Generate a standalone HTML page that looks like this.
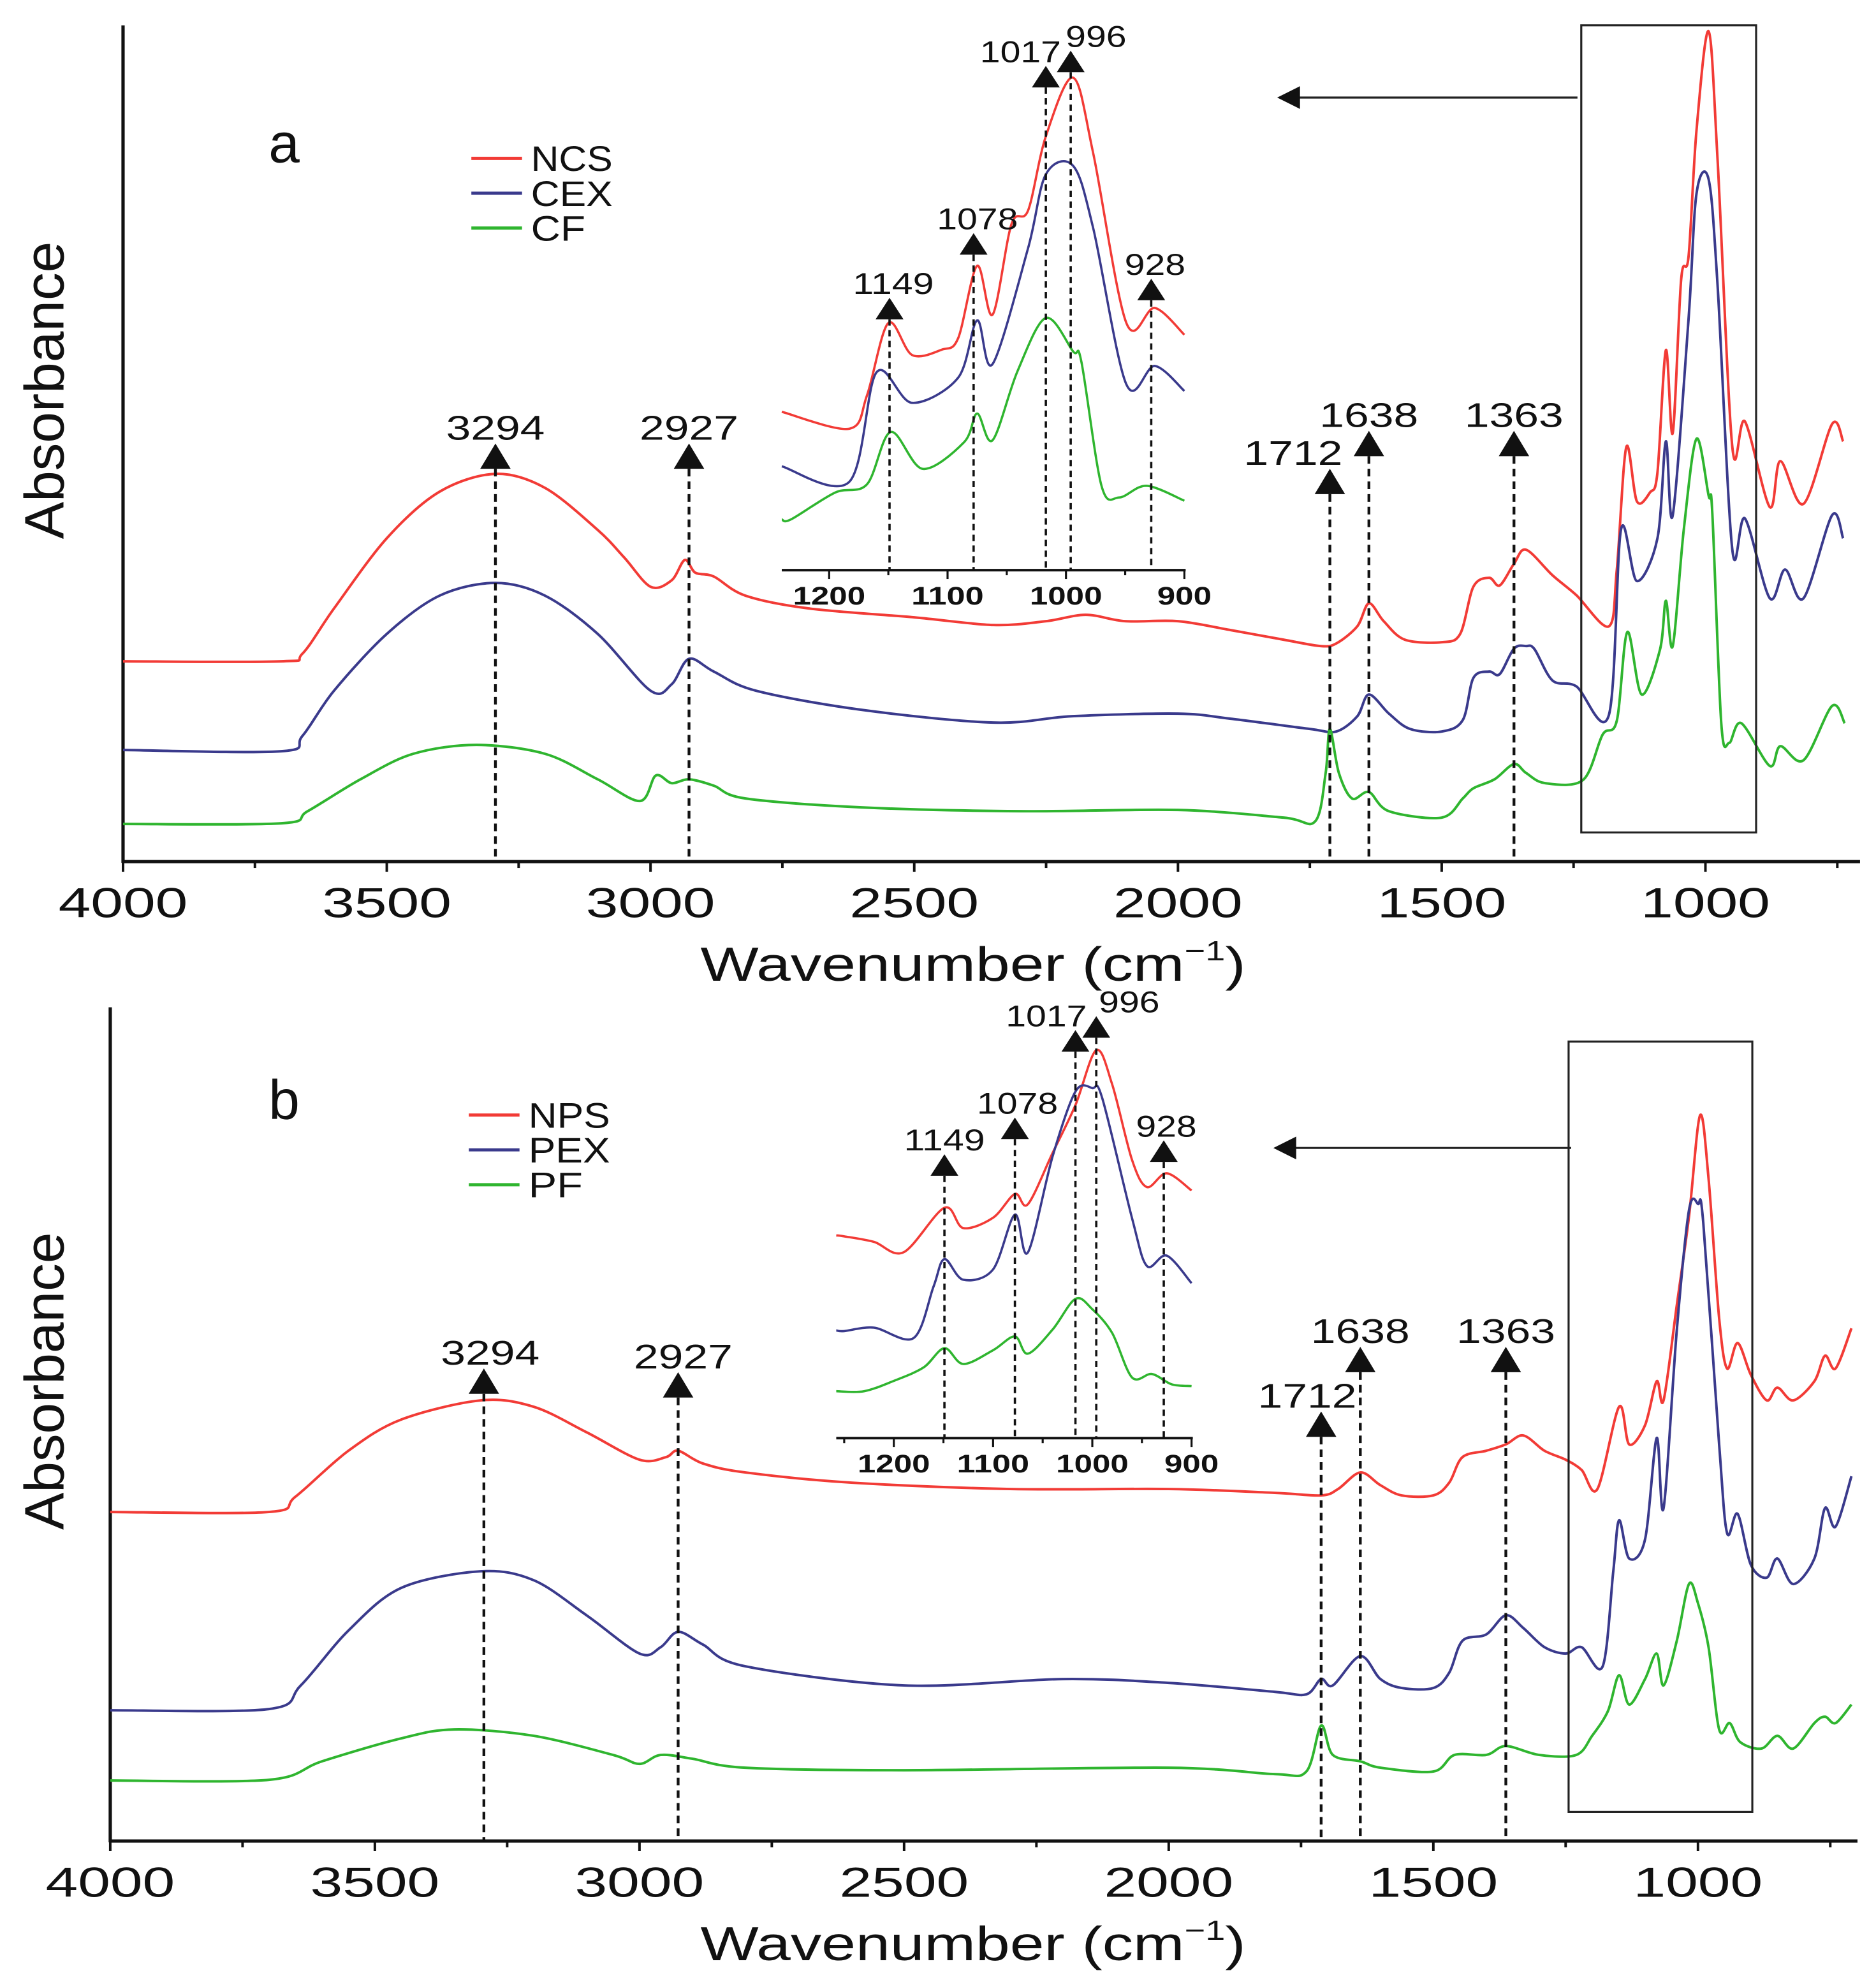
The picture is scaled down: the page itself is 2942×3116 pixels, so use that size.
<!DOCTYPE html>
<html><head><meta charset="utf-8"><style>
html,body{margin:0;padding:0;background:#fff}
svg{display:block}
text{font-family:"Liberation Sans",Arial,sans-serif;fill:#111}
</style></head><body>
<svg id="chart" width="2942" height="3116" viewBox="0 0 1480.6 1568.2" xmlns="http://www.w3.org/2000/svg">
<rect x="0" y="0" width="1480.6" height="1568.2" fill="#fff"/>
</svg>
<script>
// ---- data: panel a ----
const ncsWn=[4000,3700,3660,3600,3500,3400,3294,3200,3100,3050,3000,2960,2935,2915,2880,2820,2700,2500,2350,2250,2175,2100,2000,1900,1800,1730,1700,1660,1638,1610,1570,1500,1465,1440,1410,1390,1363,1340,1290,1245,1183,1168,1150,1130,1105,1091,1075,1062,1046,1032,1017,994,977,949,925,878,858,814,760,739,700];
const ncsA=[.314,.314,.326,.397,.507,.580,.608,.586,.520,.477,.431,.441,.473,.453,.447,.417,.397,.383,.371,.377,.387,.377,.377,.363,.348,.338,.342,.369,.405,.377,.348,.344,.357,.431,.445,.433,.467,.489,.449,.418,.369,.458,.650,.565,.579,.610,.802,.672,.913,.949,1.146,1.302,1.101,.650,.690,.556,.628,.561,.686,.659,.744];
const cexWn=[4000,3700,3660,3600,3500,3400,3294,3200,3100,3000,2960,2927,2880,2800,2600,2350,2200,2000,1900,1750,1700,1660,1638,1600,1560,1500,1460,1440,1410,1390,1363,1340,1324,1290,1245,1183,1160,1130,1091,1075,1062,1032,1017,994,977,949,925,878,849,814,760,739,700];
const cexA=[.175,.173,.197,.268,.357,.417,.437,.417,.357,.268,.278,.318,.298,.268,.238,.218,.228,.232,.224,.208,.204,.228,.262,.232,.208,.204,.222,.288,.298,.294,.334,.338,.333,.284,.275,.230,.521,.440,.507,.659,.543,.851,1.047,1.070,.904,.489,.538,.413,.458,.413,.543,.507,.592];
const cfWn=[4000,3700,3650,3550,3450,3330,3200,3100,3020,2990,2960,2927,2880,2820,2600,2300,2000,1800,1740,1720,1712,1695,1670,1638,1600,1500,1460,1440,1400,1363,1340,1304,1232,1195,1168,1148,1121,1086,1075,1062,1041,1017,994,987,970,955,932,878,858,814,760,736,700];
const cfA=[.059,.060,.079,.129,.169,.183,.169,.129,.095,.135,.123,.129,.119,.099,.085,.079,.081,.069,.063,.139,.208,.139,.099,.109,.079,.069,.099,.115,.129,.153,.139,.123,.128,.199,.221,.360,.262,.333,.409,.338,.521,.663,.574,.547,.217,.186,.217,.150,.181,.159,.244,.217,.266];
// ---- data: panel b ----
const npsWn=[4000,3700,3650,3550,3450,3300,3200,3100,3000,2950,2927,2880,2800,2600,2300,2000,1800,1712,1680,1638,1600,1560,1500,1470,1445,1400,1363,1330,1290,1250,1220,1190,1149,1130,1100,1078,1065,1040,1017,996,980,960,945,925,900,870,850,820,780,760,740,710];
const npsA=[.516,.516,.540,.612,.661,.691,.681,.641,.598,.602,.612,.592,.578,.562,.552,.552,.546,.542,.552,.578,.558,.542,.542,.562,.602,.612,.622,.636,.612,.598,.582,.552,.681,.622,.652,.721,.691,.840,.979,1.138,1.039,.820,.741,.781,.731,.691,.711,.691,.721,.761,.741,.804];
const pexWn=[4000,3700,3640,3550,3450,3300,3200,3100,3000,2960,2927,2880,2800,2500,2200,2000,1800,1740,1712,1690,1638,1600,1560,1500,1470,1445,1400,1363,1330,1290,1250,1220,1180,1160,1149,1130,1100,1078,1065,1040,1017,1000,990,960,945,925,900,870,850,820,780,760,740,710];
const pexA=[.205,.207,.244,.330,.397,.423,.409,.354,.294,.304,.328,.308,.274,.244,.254,.248,.234,.230,.254,.244,.290,.254,.240,.240,.264,.314,.324,.354,.334,.304,.294,.304,.274,.423,.503,.443,.473,.632,.522,.801,.989,.999,.970,.622,.483,.513,.433,.413,.443,.403,.443,.522,.493,.572];
const pfWn=[4000,3700,3600,3450,3350,3200,3050,3000,2960,2900,2800,2500,2000,1800,1740,1712,1690,1638,1600,1500,1460,1400,1363,1300,1230,1200,1170,1149,1130,1100,1078,1065,1040,1017,1000,980,960,940,920,880,850,820,780,760,740,710];
const pfA=[.095,.096,.125,.161,.175,.165,.135,.121,.135,.129,.115,.111,.115,.105,.109,.181,.135,.125,.115,.109,.135,.135,.149,.135,.135,.165,.204,.260,.214,.254,.294,.244,.314,.403,.373,.304,.175,.185,.155,.145,.165,.145,.185,.195,.185,.214];
// ---- axis ticks & annotations ----
const mainTickLabels=[4000,3500,3000,2500,2000,1500,1000];
const insetTickLabels=[1200,1100,1000,900];
const peakMarks=[3294,2927,1712,1638,1363];
const insetMarks=[1149,1078,1017,996,928];
const legendA=["NCS","CEX","CF"];
const legendB=["NPS","PEX","PF"];
const colors=["#f23b36","#3a3a8c","#2fb52f"];

const NS="http://www.w3.org/2000/svg";
const svg=document.getElementById('chart');
function mk(tag,attrs,parent){const e=document.createElementNS(NS,tag);for(const k in attrs)e.setAttribute(k,attrs[k]);(parent||svg).appendChild(e);return e;}
function wide(t,perChar){t.setAttribute('textLength',(String(t.textContent).length*perChar).toFixed(1));t.setAttribute('lengthAdjust','spacingAndGlyphs');}
function smooth(pts){
  if(pts.length<2)return '';
  let d='M'+pts[0][0].toFixed(2)+','+pts[0][1].toFixed(2);
  for(let i=0;i<pts.length-1;i++){
    const p0=pts[Math.max(0,i-1)],p1=pts[i],p2=pts[i+1],p3=pts[Math.min(pts.length-1,i+2)];
    const t=0.16;
    const c1=[p1[0]+(p2[0]-p0[0])*t,p1[1]+(p2[1]-p0[1])*t];
    const c2=[p2[0]-(p3[0]-p1[0])*t,p2[1]-(p3[1]-p1[1])*t];
    d+='C'+c1[0].toFixed(2)+','+c1[1].toFixed(2)+' '+c2[0].toFixed(2)+','+c2[1].toFixed(2)+' '+p2[0].toFixed(2)+','+p2[1].toFixed(2);
  }
  return d;
}
function interp(wn,a,w){for(let i=0;i<wn.length-1;i++){if(w<=wn[i]&&w>=wn[i+1]){const f=(wn[i]-w)/(wn[i]-wn[i+1]);return a[i]+(a[i+1]-a[i])*f;}}return a[a.length-1];}

function panel(cfg){
  const g=mk('g',{});
  
  
  const X=w=>cfg.x0+(4000-w)*cfg.px;
  const Y=a=>cfg.axisY-a*cfg.ys;
  const ya=mk('line',{x1:cfg.x0,y1:cfg.yTop,x2:cfg.x0,y2:cfg.axisY+1,stroke:'#111','stroke-width':2.6},g);
  
  
  const xa=mk('line',{x1:cfg.x0-1,y1:cfg.axisY,x2:cfg.xEnd,y2:cfg.axisY,stroke:'#111','stroke-width':2.6},g);
  
  
  for(let w=4000;w>=700;w-=250){
    const major=(w%500===0);
    const tk=mk('line',{x1:X(w),y1:cfg.axisY,x2:X(w),y2:cfg.axisY+(major?8:5),stroke:'#111','stroke-width':2},g);
    
    
  }
  mainTickLabels.forEach(w=>{
    const t=mk('text',{x:X(w),y:cfg.axisY+44,'font-size':33,'text-anchor':'middle'},g);
    t.textContent=w;
    wide(t,25.5);
    
    
  });
  const xt=mk('text',{x:0,y:0,'font-size':38,'text-anchor':'middle',transform:'translate(768,'+(cfg.axisY+94)+') scale(1.28,1)'},g);
  xt.innerHTML='Wavenumber (cm<tspan dy="-16" font-size="22">−1</tspan><tspan dy="16">)</tspan>';
  
  
  const yt=mk('text',{x:0,y:0,'font-size':44,'text-anchor':'middle',transform:'translate(50,'+cfg.yTitle+') rotate(-90)'},g);
  yt.textContent='Absorbance';
  
  
  const pl=mk('text',{x:cfg.letterX,y:cfg.letterY,'font-size':44},g);
  pl.textContent=cfg.letter;
  
  
  cfg.legend.forEach((n,i)=>{
    const ly=cfg.legY+i*27.5;
    const l=mk('line',{x1:cfg.legX,y1:ly,x2:cfg.legX+40,y2:ly,stroke:colors[i],'stroke-width':2.5},g);
    
    
    const t=mk('text',{x:cfg.legX+47,y:ly+10,'font-size':28},g);
    t.textContent=n;
    wide(t,21.5);
    
    
  });
  cfg.series.forEach((s,i)=>{
    const pts=s.wn.map((w,j)=>[X(w),Y(s.a[j])]).filter(p=>p[0]<=cfg.xEnd+1);
    const p=mk('path',{d:smooth(pts),fill:'none',stroke:colors[i],'stroke-width':2,'stroke-linejoin':'round'},g);
    
    
  });
  peakMarks.forEach((w,i)=>{
    const m=cfg.marks[i];
    const x=X(w);
    const dl=mk('line',{x1:x,y1:m[1]+20,x2:x,y2:cfg.axisY,stroke:'#111','stroke-width':2.2,'stroke-dasharray':'6,4'},g);
    
    
    const tr=mk('polygon',{points:(x-12)+','+(m[1]+20)+' '+(x+12)+','+(m[1]+20)+' '+x+','+m[1],fill:'#111'},g);
    
    
    const t=mk('text',{x:x+m[0],y:m[1]-3,'font-size':27,'text-anchor':'middle'},g);
    t.textContent=w;
    wide(t,19.5);
    
    
  });
  const bx=mk('rect',{x:cfg.box[0],y:cfg.box[1],width:cfg.box[2]-cfg.box[0],height:cfg.box[3]-cfg.box[1],fill:'none',stroke:'#222','stroke-width':1.6},g);
  
  
  const ar=mk('line',{x1:cfg.arrow[0],y1:cfg.arrow[2],x2:cfg.arrow[1]+14,y2:cfg.arrow[2],stroke:'#222','stroke-width':1.6},g);
  
  
  const ah=mk('polygon',{points:cfg.arrow[1]+','+cfg.arrow[2]+' '+(cfg.arrow[1]+18)+','+(cfg.arrow[2]-9)+' '+(cfg.arrow[1]+18)+','+(cfg.arrow[2]+9),fill:'#111'},g);
  
  
  const ins=cfg.inset;
  const gi=mk('g',{},g);
  
  
  const IX=w=>ins.left+(ins.wnLeft-w)*ins.px;
  const ia=mk('line',{x1:ins.left,y1:ins.axisY,x2:IX(900)+1,y2:ins.axisY,stroke:'#111','stroke-width':2},gi);
  
  
  for(let w=1250;w>=900;w-=50){
    if(w>ins.wnLeft)continue;
    const major=(w%100===0);
    const tk=mk('line',{x1:IX(w),y1:ins.axisY,x2:IX(w),y2:ins.axisY+(major?7:4),stroke:'#111','stroke-width':1.6},gi);
    
    
  }
  insetTickLabels.forEach(w=>{
    const t=mk('text',{x:IX(w),y:ins.axisY+27,'font-size':20,'font-weight':'bold','text-anchor':'middle'},gi);
    t.textContent=w;
    wide(t,14.3);
    
    
  });
  cfg.series.forEach((s,i)=>{
    const ref=interp(s.wn,s.a,ins.wnLeft);
    const IY=a=>ins.starts[i]-(a-ref)*ins.ys;
    const pts=[[IX(ins.wnLeft),IY(ref)]];
    s.wn.forEach((w,j)=>{if(w<ins.wnLeft&&w>900)pts.push([IX(w),IY(s.a[j])]);});
    pts.push([IX(900),IY(interp(s.wn,s.a,900))]);
    const p=mk('path',{d:smooth(pts),fill:'none',stroke:colors[i],'stroke-width':1.8},gi);
    
    
  });
  insetMarks.forEach((w,i)=>{
    const m=ins.marks[i];
    const x=IX(w);
    const dl=mk('line',{x1:x,y1:m[1]+17,x2:x,y2:ins.axisY,stroke:'#111','stroke-width':1.8,'stroke-dasharray':'5,3.5'},gi);
    
    
    const tr=mk('polygon',{points:(x-11)+','+(m[1]+17)+' '+(x+11)+','+(m[1]+17)+' '+x+','+m[1],fill:'#111'},gi);
    
    
    const t=mk('text',{x:x+m[0],y:m[1]-3,'font-size':24,'text-anchor':'middle'},gi);
    t.textContent=w;
    wide(t,16);
    
    
  });
}

panel({name:'panel-a',letter:'a',letterX:212,letterY:128,legend:legendA,legX:372,legY:125,
  x0:97.1,px:0.4163,axisY:680,ys:503.3,yTop:20,xEnd:1468,yTitle:308,
  series:[{wn:ncsWn,a:ncsA},{wn:cexWn,a:cexA},{wn:cfWn,a:cfA}],
  marks:[[0,350],[0,350],[-29,370],[0,340],[0,340]],
  box:[1248,20,1386,657],arrow:[1245,1008,77],
  inset:{left:617,wnLeft:1240,px:0.9346,axisY:450,ys:297,starts:[325,368,410],
    marks:[[3,235],[3,184],[-20,52],[20,40],[3,220]]}
});
panel({name:'panel-b',letter:'b',letterX:212,letterY:883,legend:legendB,legX:370,legY:880,
  x0:87,px:0.4177,axisY:1453,ys:503.3,yTop:795,xEnd:1466,yTitle:1090,
  series:[{wn:npsWn,a:npsA},{wn:pexWn,a:pexA},{wn:pfWn,a:pfA}],
  marks:[[5,1080],[4,1083],[-11,1114],[0,1063],[0,1063]],
  box:[1238,822,1383,1430],arrow:[1240,1005,906],
  inset:{left:660,wnLeft:1258,px:0.7833,axisY:1135,ys:272,starts:[975,1050,1098],
    marks:[[0,911],[2,882],[-23,813],[26,802],[2,900]]}
});
</script>
</body></html>
